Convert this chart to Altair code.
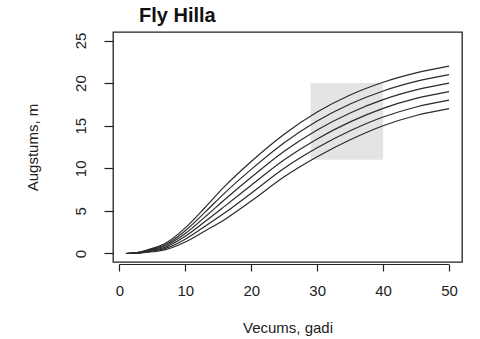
import altair as alt
import pandas as pd

# Stand age (years) at which each height curve is tabulated
ages = [1, 3, 5, 7, 10, 13, 16, 20, 25, 30, 35, 40, 45, 50]

# Height (m) curves, from the best site class down to the poorest
curve_1 = [0.0, 0.15, 0.6, 1.2, 3.0, 5.4, 7.9, 10.8, 14.0, 16.6, 18.6, 20.1, 21.2, 22.0]
curve_2 = [0.0, 0.13, 0.52, 1.05, 2.67, 4.85, 7.12, 9.87, 13.0, 15.55, 17.55, 19.08, 20.2, 21.0]
curve_3 = [0.0, 0.11, 0.44, 0.9, 2.34, 4.3, 6.34, 8.94, 12.0, 14.5, 16.5, 18.06, 19.2, 20.0]
curve_4 = [0.0, 0.09, 0.36, 0.75, 2.01, 3.75, 5.56, 8.01, 11.0, 13.45, 15.45, 17.04, 18.2, 19.0]
curve_5 = [0.0, 0.07, 0.28, 0.6, 1.68, 3.2, 4.78, 7.08, 10.0, 12.4, 14.4, 16.02, 17.2, 18.0]
curve_6 = [0.0, 0.05, 0.2, 0.45, 1.35, 2.65, 4.0, 6.15, 9.0, 11.35, 13.35, 15.0, 16.2, 17.0]

# Shaded window of observed stands
window_age = [29, 40]
window_height = [11, 20]

x_ticks = [0, 10, 20, 30, 40, 50]
y_ticks = [0, 5, 10, 15, 20, 25]

curves = [curve_1, curve_2, curve_3, curve_4, curve_5, curve_6]
rows = []
for k, values in enumerate(curves):
    for a, h in zip(ages, values):
        rows.append({"age": a, "height": h, "curve": k + 1})
lines_df = pd.DataFrame(rows)

window_df = pd.DataFrame({
    "a0": [window_age[0]], "a1": [window_age[1]],
    "h0": [window_height[0]], "h1": [window_height[1]],
})
axis_df = pd.DataFrame({"a0": [x_ticks[0]], "a1": [x_ticks[-1]]})

W, H = 349, 230
FONT = "Liberation Sans"
INK = "#222222"

x_scale = alt.Scale(domain=[-0.96, 51.96], nice=False, zero=False)
y_scale = alt.Scale(domain=[-1, 26], nice=False, zero=False)

x_axis = alt.Axis(
    title="Vecums, gadi", values=x_ticks, domain=False, grid=False,
    offset=2, tickSize=7, tickColor=INK, tickWidth=1.2,
    labelFont=FONT, labelFontSize=15, labelColor=INK, labelPadding=12,
    titleFont=FONT, titleFontSize=15, titleFontWeight="normal",
    titleColor=INK, titlePadding=22,
)
y_axis = alt.Axis(
    title="Augstums, m", values=y_ticks, domain=False, grid=False,
    offset=0, tickSize=9, tickColor=INK, tickWidth=1.2,
    labelFont=FONT, labelFontSize=15, labelColor=INK, labelAngle=270,
    labelAlign="center", labelBaseline="bottom", labelPadding=16,
    titleFont=FONT, titleFontSize=15, titleFontWeight="normal",
    titleColor=INK, titleAngle=270, titlePadding=33,
)

window = alt.Chart(window_df).mark_rect(color="#e4e4e4").encode(
    x=alt.X("a0:Q", scale=x_scale, axis=x_axis),
    x2="a1:Q",
    y=alt.Y("h0:Q", scale=y_scale, axis=y_axis),
    y2="h1:Q",
)

lines = alt.Chart(lines_df).mark_line(
    color="#2a2a2a", strokeWidth=1.2, interpolate="monotone"
).encode(
    x=alt.X("age:Q", scale=x_scale),
    y=alt.Y("height:Q", scale=y_scale),
    detail="curve:N",
)

x_axis_line = alt.Chart(axis_df).mark_rule(
    color=INK, strokeWidth=1.2, clip=False
).encode(
    x=alt.X("a0:Q", scale=x_scale),
    x2="a1:Q",
    y=alt.value(H + 2.5),
)

chart = alt.layer(window, lines, x_axis_line).properties(
    width=W,
    height=H,
    background="white",
    title=alt.TitleParams(
        "Fly Hilla", anchor="start", frame="group", dx=26, offset=6,
        font=FONT, fontSize=20, fontWeight="bold", color="#111111",
    ),
    autosize=alt.AutoSizeParams(type="none"),
    padding={"left": 113, "top": 32, "right": 18, "bottom": 77},
).configure_view(
    stroke=INK, strokeWidth=1.3
)

chart.save("out.html", embed_options={"renderer": "svg", "actions": False})
